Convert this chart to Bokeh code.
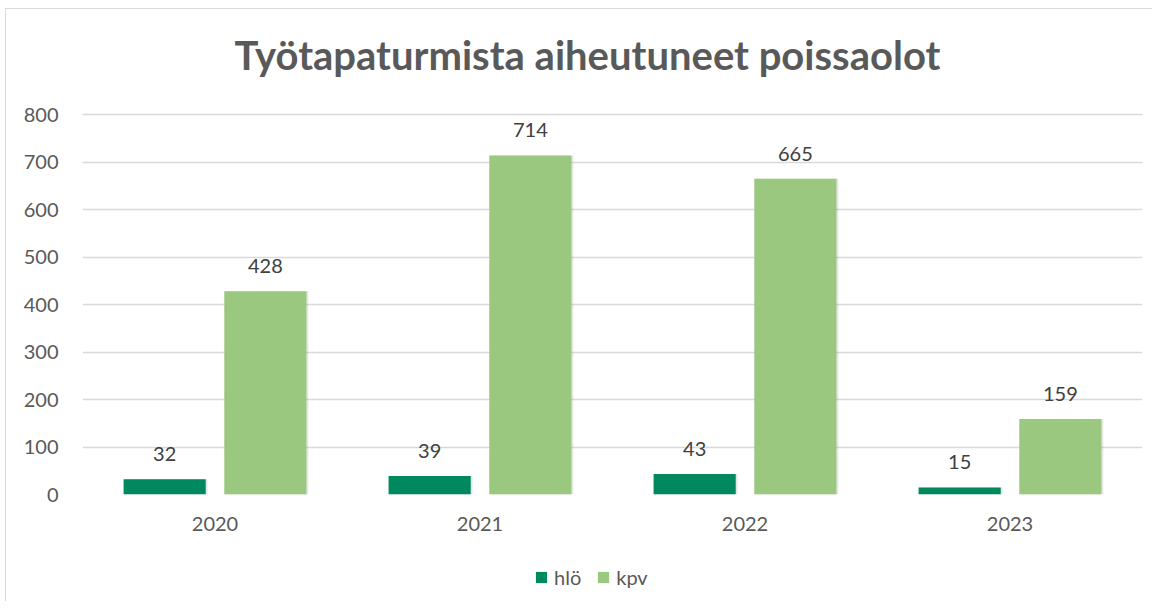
from bokeh.plotting import figure
from bokeh.layouts import column
from bokeh.models import ColumnDataSource, FactorRange, LabelSet, Legend, LegendItem, FixedTicker, Title, Range1d
from bokeh.core.properties import value
from bokeh.transform import dodge
from bokeh.embed import file_html
from bokeh.resources import INLINE

years = ["2020", "2021", "2022", "2023"]
hlo = [32, 39, 43, 15]
kpv = [428, 714, 665, 159]
series_names = ["hlö", "kpv"]
colors = ["#00895E", "#9BC87F"]
y_ticks = [0, 100, 200, 300, 400, 500, 600, 700, 800]

FONT = "Lato"
W = 1146
H_MAIN = 540
H_LEG = 52

src = ColumnDataSource(data=dict(year=years, hlo=hlo, kpv=kpv,
                                 hlo_t=[str(v) for v in hlo], kpv_t=[str(v) for v in kpv]))

p = figure(width=W, height=H_MAIN, x_range=FactorRange(factors=years, range_padding=0),
           y_range=Range1d(0, 836), output_backend="svg", toolbar_location=None,
           min_border_left=76, min_border_right=10, min_border_top=10, min_border_bottom=55)
p.title = None
t = Title(text="Työtapaturmista aiheutuneet poissaolot", align="left",
          text_font=FONT, text_font_size="40px", text_font_style="bold",
          text_color="#595959", standoff=38, offset=152)
p.add_layout(t, "above")

p.outline_line_color = None
p.background_fill_color = "white"
p.border_fill_color = "white"
p.xgrid.grid_line_color = None
p.ygrid.grid_line_color = "#d9d9d9"
p.ygrid.grid_line_width = 1.5

p.yaxis.ticker = FixedTicker(ticks=y_ticks)
p.yaxis.axis_line_color = None
p.yaxis.major_tick_line_color = None
p.yaxis.minor_tick_line_color = None
p.yaxis.major_label_standoff = 18
p.yaxis.major_label_text_font = FONT
p.yaxis.major_label_text_font_size = "20px"
p.yaxis.major_label_text_color = "#595959"

p.xaxis.axis_line_color = None
p.xaxis.major_tick_line_color = None
p.xaxis.minor_tick_line_color = None
p.xaxis.major_label_standoff = 16
p.xaxis.major_label_text_font = FONT
p.xaxis.major_label_text_font_size = "20px"
p.xaxis.major_label_text_color = "#595959"

off = 0.19
w = 0.31
# soft shadows
for col, o in (("hlo", -off), ("kpv", off)):
    p.vbar(x=dodge("year", o + 0.005, range=p.x_range), top=col, bottom=-3, width=w + 0.004,
           source=src, fill_color="#000000", fill_alpha=0.10, line_color=None)
r1 = p.vbar(x=dodge("year", -off, range=p.x_range), top="hlo", width=w, source=src,
            fill_color=colors[0], line_color=None)
r2 = p.vbar(x=dodge("year", off, range=p.x_range), top="kpv", width=w, source=src,
            fill_color=colors[1], line_color=None)

for col, o in (("hlo", -off), ("kpv", off)):
    ls = LabelSet(x=dodge("year", o, range=p.x_range), y=col, text=col + "_t", source=src,
                  text_align="center", text_baseline="bottom", y_offset=18,
                  text_font=value(FONT), text_font_size="20px", text_color="#404040")
    p.add_layout(ls)

# legend strip
pl = figure(width=W, height=H_LEG, x_range=(0, 1), y_range=(0, 1), output_backend="svg",
            toolbar_location=None, x_axis_type=None, y_axis_type=None,
            min_border=0, min_border_left=0, min_border_right=0, min_border_top=0, min_border_bottom=0)
pl.outline_line_color = None
pl.xgrid.grid_line_color = None
pl.ygrid.grid_line_color = None
hidden = ColumnDataSource(data=dict(x=[5.0], top=[5.0]))
lr1 = pl.vbar(x="x", top="top", bottom=4.0, width=0.1, source=hidden, fill_color=colors[0], line_color=None)
lr2 = pl.vbar(x="x", top="top", bottom=4.0, width=0.1, source=hidden, fill_color=colors[1], line_color=None)
legend = Legend(items=[LegendItem(label=series_names[0], renderers=[lr1]),
                       LegendItem(label=series_names[1], renderers=[lr2])],
                orientation="horizontal", location=(452, 12),
                label_text_font=FONT, label_text_font_size="20px", label_text_color="#595959",
                glyph_width=14, glyph_height=14, spacing=15, label_standoff=6,
                border_line_color=None, background_fill_alpha=0, margin=0, padding=0)
pl.add_layout(legend, "center")

layout = column(p, pl, spacing=0)
layout.styles = {"margin-left": "5px", "margin-top": "8px",
                 "border-left": "1px solid #d9d9d9", "border-top": "1px solid #d9d9d9"}
open("out.html", "w").write(file_html(layout, INLINE))
